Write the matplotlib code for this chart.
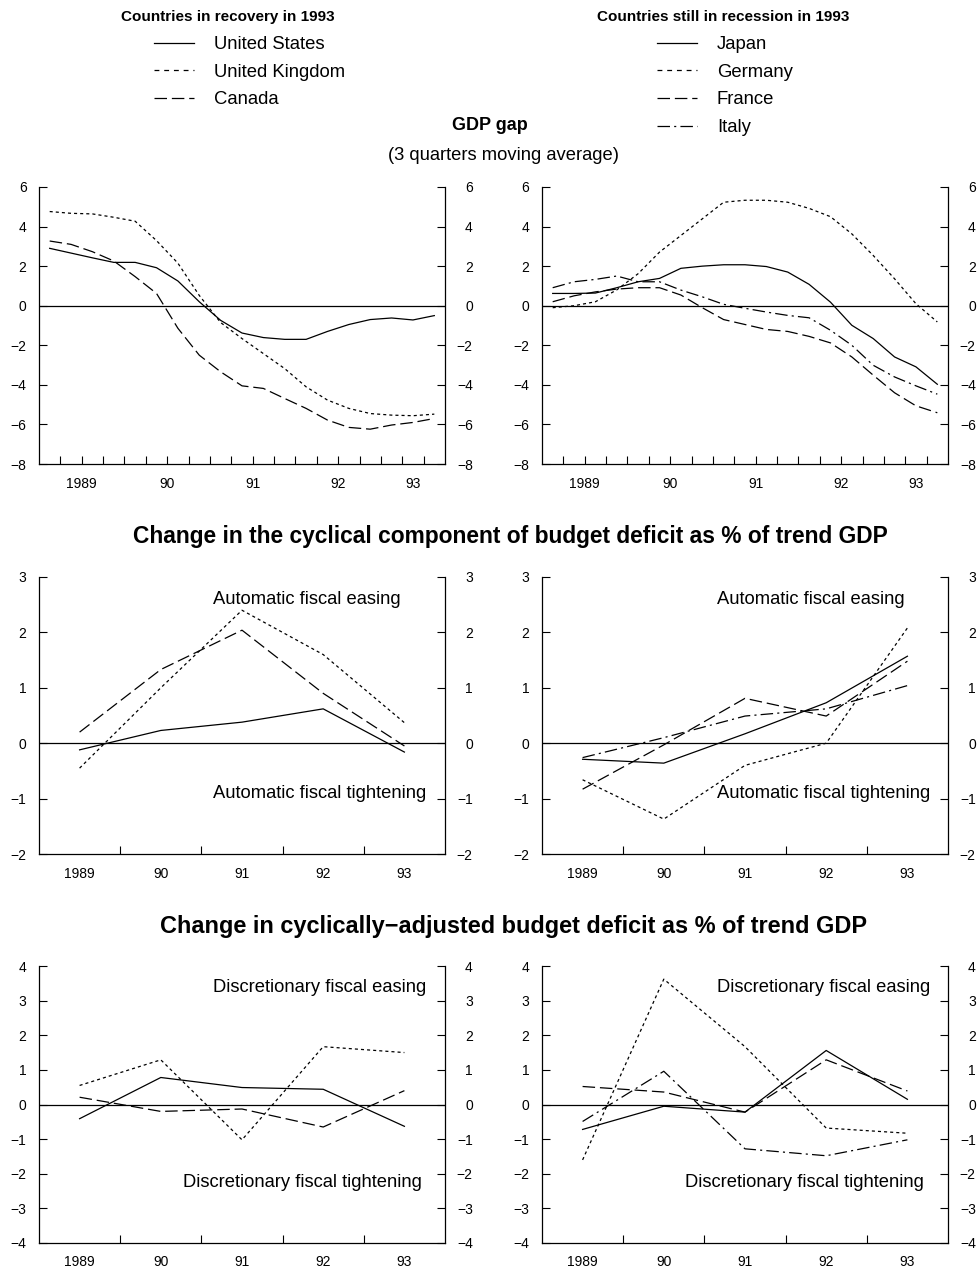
import matplotlib
matplotlib.use('Agg')
import matplotlib.pyplot as plt
from matplotlib.lines import Line2D
import numpy as np

plt.rcParams['font.family'] = ['Liberation Sans', 'DejaVu Sans']
plt.rcParams['lines.scale_dashes'] = False
plt.rcParams['axes.linewidth'] = 0.9

# ---------------- data ----------------
year_labels = ['1989', '90', '91', '92', '93']

# GDP gap, quarterly (1989Q1 - 1993Q3), 3 quarters moving average
us_gap = [2.9, 2.66, 2.42, 2.19, 2.19, 1.92, 1.25, 0.2, -0.74, -1.38, -1.61,
          -1.70, -1.70, -1.3, -0.95, -0.7, -0.62, -0.72, -0.5]
uk_gap = [4.76, 4.67, 4.64, 4.47, 4.27, 3.29, 2.15, 0.52, -0.85, -1.66, -2.42,
          -3.18, -4.1, -4.77, -5.19, -5.45, -5.53, -5.56, -5.48]
ca_gap = [3.27, 3.1, 2.73, 2.26, 1.47, 0.62, -1.14, -2.5, -3.34, -4.05, -4.18,
          -4.69, -5.19, -5.78, -6.15, -6.24, -6.03, -5.9, -5.7]
jp_gap = [0.62, 0.62, 0.64, 0.91, 1.21, 1.38, 1.89, 2.0, 2.07, 2.07, 1.98,
          1.70, 1.08, 0.18, -0.99, -1.66, -2.59, -3.09, -3.97]
de_gap = [-0.1, 0.0, 0.2, 0.8, 1.62, 2.71, 3.55, 4.39, 5.23, 5.33, 5.33,
          5.23, 4.92, 4.5, 3.63, 2.54, 1.36, 0.1, -0.82]
fr_gap = [0.2, 0.5, 0.7, 0.84, 0.91, 0.91, 0.54, -0.1, -0.7, -0.95, -1.2,
          -1.3, -1.55, -1.88, -2.59, -3.51, -4.4, -5.06, -5.41]
it_gap = [0.91, 1.21, 1.33, 1.5, 1.21, 1.21, 0.79, 0.45, 0.07, -0.13, -0.32,
          -0.49, -0.61, -1.24, -2.0, -3.01, -3.6, -4.05, -4.47]

# Change in the cyclical component of budget deficit (annual 1989-93)
us_cyc = [-0.12, 0.23, 0.38, 0.62, -0.16]
uk_cyc = [-0.45, 1.0, 2.4, 1.6, 0.37]
ca_cyc = [0.2, 1.33, 2.04, 0.9, -0.05]
jp_cyc = [-0.29, -0.36, 0.17, 0.73, 1.57]
de_cyc = [-0.66, -1.37, -0.40, 0.0, 2.08]
fr_cyc = [-0.83, -0.03, 0.81, 0.49, 1.48]
it_cyc = [-0.26, 0.1, 0.49, 0.62, 1.04]

# Change in cyclically-adjusted budget deficit (annual 1989-93)
us_adj = [-0.41, 0.78, 0.49, 0.44, -0.63]
uk_adj = [0.55, 1.29, -1.02, 1.67, 1.5]
ca_adj = [0.21, -0.2, -0.13, -0.65, 0.4]
jp_adj = [-0.72, -0.05, -0.22, 1.56, 0.15]
de_adj = [-1.6, 3.62, 1.67, -0.68, -0.83]
fr_adj = [0.52, 0.36, -0.22, 1.29, 0.39]
it_adj = [-0.49, 0.96, -1.28, -1.48, -1.02]

left_names = ['United States', 'United Kingdom', 'Canada']
right_names = ['Japan', 'Germany', 'France', 'Italy']

# ---------------- styles ----------------
LW = 0.9
SOLID = '-'
SHORT = (0, (2.2, 2.2))
LONG = (0, (9, 3.5))
DASHDOT = (0, (9, 3, 1.5, 3))
left_styles = [SOLID, SHORT, LONG]
right_styles = [SOLID, SHORT, LONG, DASHDOT]

W, H = 980, 1270
fig = plt.figure(figsize=(W / 100, H / 100), dpi=100)


def px_axes(x0, y_top, w=406, h=277):
    return fig.add_axes([x0 / W, 1 - (y_top + h) / H, w / W, h / H])


def setup(ax, ylim, yticks, quarterly):
    n = 19 if quarterly else 5
    ax.set_xlim(-0.5, n - 0.5)
    ax.set_ylim(*ylim)
    ax.spines['top'].set_visible(False)
    ax.spines['right'].set_visible(False)
    ax.axhline(0, color='black', lw=LW, zorder=1)
    ax.set_yticks(yticks)
    ax.tick_params(axis='y', direction='in', length=6, width=0.8, pad=9,
                   labelsize=10)
    if quarterly:
        major = [1.5, 5.5, 9.5, 13.5, 17.0]
    else:
        major = list(range(n))
    minor = np.arange(0.5, n - 1, 1.0)
    ax.xaxis.remove_overlapping_locs = False
    ax.set_xticks(major)
    ax.set_xticklabels(year_labels)
    ax.set_xticks(minor, minor=True)
    ax.tick_params(axis='x', which='major', length=0, pad=9, labelsize=10)
    ax.tick_params(axis='x', which='minor', direction='in', length=6,
                   width=0.8)
    ax2 = ax.twinx()
    ax2.set_ylim(*ylim)
    ax2.set_yticks(yticks)
    ax2.tick_params(axis='y', direction='in', length=6, width=0.8, pad=20,
                    labelsize=10)
    for lab in ax2.get_yticklabels():
        lab.set_horizontalalignment('right')
    for s in ['top', 'left', 'bottom']:
        ax2.spines[s].set_visible(False)
    return ax


def draw(ax, series, styles, quarterly):
    x = np.arange(19) if quarterly else np.arange(5)
    for vals, ls in zip(series, styles):
        ax.plot(x, vals, color='black', lw=LW, linestyle=ls, zorder=2)


rows = [187, 577, 966]
cols = [39, 542]

# GDP gap
ax = setup(px_axes(cols[0], rows[0]), (-8, 6), range(-8, 7, 2), True)
draw(ax, [us_gap, uk_gap, ca_gap], left_styles, True)
ax = setup(px_axes(cols[1], rows[0]), (-8, 6), range(-8, 7, 2), True)
draw(ax, [jp_gap, de_gap, fr_gap, it_gap], right_styles, True)

# cyclical component
TXT = 13.2
ax = setup(px_axes(cols[0], rows[1]), (-2, 3), range(-2, 4), False)
draw(ax, [us_cyc, uk_cyc, ca_cyc], left_styles, False)
ax.text(0.4286, 0.917, 'Automatic fiscal easing', transform=ax.transAxes,
        fontsize=TXT, ha='left', va='center')
ax.text(0.4286, 0.220, 'Automatic fiscal tightening', transform=ax.transAxes,
        fontsize=TXT, ha='left', va='center')
ax = setup(px_axes(cols[1], rows[1]), (-2, 3), range(-2, 4), False)
draw(ax, [jp_cyc, de_cyc, fr_cyc, it_cyc], right_styles, False)
ax.text(0.431, 0.917, 'Automatic fiscal easing', transform=ax.transAxes,
        fontsize=TXT, ha='left', va='center')
ax.text(0.431, 0.220, 'Automatic fiscal tightening', transform=ax.transAxes,
        fontsize=TXT, ha='left', va='center')

# cyclically-adjusted
ax = setup(px_axes(cols[0], rows[2]), (-4, 4), range(-4, 5), False)
draw(ax, [us_adj, uk_adj, ca_adj], left_styles, False)
ax.text(0.4286, 0.9206, 'Discretionary fiscal easing', transform=ax.transAxes,
        fontsize=TXT, ha='left', va='center')
ax.text(0.3547, 0.2202, 'Discretionary fiscal tightening',
        transform=ax.transAxes, fontsize=TXT, ha='left', va='center')
ax = setup(px_axes(cols[1], rows[2]), (-4, 4), range(-4, 5), False)
draw(ax, [jp_adj, de_adj, fr_adj, it_adj], right_styles, False)
ax.text(0.431, 0.9206, 'Discretionary fiscal easing', transform=ax.transAxes,
        fontsize=TXT, ha='left', va='center')
ax.text(0.3522, 0.2202, 'Discretionary fiscal tightening',
        transform=ax.transAxes, fontsize=TXT, ha='left', va='center')

# titles
fig.text(228 / W, 1 - 17 / H, 'Countries in recovery in 1993', ha='center',
         va='center', fontsize=11, fontweight='bold')
fig.text(723 / W, 1 - 17 / H, 'Countries still in recession in 1993',
         ha='center', va='center', fontsize=11, fontweight='bold')
fig.text(490 / W, 1 - 125 / H, 'GDP gap', ha='center', va='center',
         fontsize=13, fontweight='bold')
fig.text(503 / W, 1 - 155 / H, '(3 quarters moving average)', ha='center',
         va='center', fontsize=13.2)
fig.text(510 / W, 1 - 537 / H,
         'Change in the cyclical component of budget deficit as % of trend GDP',
         ha='center', va='center', fontsize=16.4, fontweight='bold')
fig.text(513 / W, 1 - 926 / H,
         'Change in cyclically\u2212adjusted budget deficit as % of trend GDP',
         ha='center', va='center', fontsize=16.9, fontweight='bold')

# legends
LEG_SHORT = (0, (3.5, 3.5))
leg_left = [Line2D([], [], color='black', lw=LW, linestyle=s)
            for s in [SOLID, LEG_SHORT, LONG]]
leg_right = [Line2D([], [], color='black', lw=LW, linestyle=s)
             for s in [SOLID, LEG_SHORT, LONG, DASHDOT]]
common = dict(loc='upper left', frameon=False, fontsize=13.3,
              handlelength=2.16, handletextpad=1.08, labelspacing=0.58,
              borderpad=0, borderaxespad=0)
fig.legend(leg_left, left_names, bbox_to_anchor=(154 / W, 1 - 36 / H), **common)
fig.legend(leg_right, right_names, bbox_to_anchor=(657 / W, 1 - 36 / H), **common)

fig.savefig('out.png', dpi=100)
